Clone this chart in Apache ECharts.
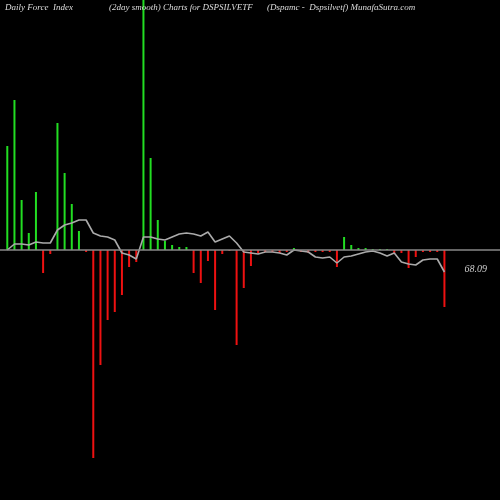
<!DOCTYPE html>
<html><head><meta charset="utf-8">
<script src="https://cdn.jsdelivr.net/npm/echarts@6/dist/echarts.min.js"></script>
<style>html,body{margin:0;padding:0;background:#000}#c{width:500px;height:500px}</style>
</head><body><div id="c"></div>
<script>
const forceValues = [104,150,50,17,58,-23,-4,127,77,46,19,-2,-208,-115,-70,-62,-45,-17,-12,250,92,30,9,5,3,3,-23,-33,-11,-60,-4,-1,-95,-38,
 -16,-3,-2,-2,-3,-2,2,-2,-3,-2,-2,-2,-17,13,5,2,2,1,1,1,-3,-3,-18,-7,-2,-2,-2,-57];
const smoothValues = [0,6,6,5,8,7,7,20,25,27,30,30,17,14,13,10,-3,-5,-9,13,13,11,10,13,16,17,16,14,18,8,11,14,7,-2,
 -3,-4,-2,-2,-3,-5,0,-1,-2,-7,-8,-7,-13,-7,-6,-4,-2,-1,-3,-6,-3,-12,-14,-15,-10,-9,-9,-22];
const categories = forceValues.map((_, i) => String(i + 1));
const lastLabel = '68.09';
const titles = ['Daily Force  Index', '(2day smooth) Charts for DSPSILVETF', '(Dspamc -  Dspsilvetf) MunafaSutra.com'];

const chart = echarts.init(document.getElementById('c'));
const tStyle = {fontFamily:'Liberation Serif', fontStyle:'italic', fontWeight:'normal', fontSize:9, color:'#ddd'};
chart.setOption({
  backgroundColor:'#000',
  animation:false,
  title:[
    {text:titles[0], left:0, top:-2, textStyle:tStyle},
    {text:titles[1], left:104, top:-2, textStyle:tStyle},
    {text:titles[2], left:262, top:-2, textStyle:tStyle}
  ],
  grid:{left:3.7, right:52, top:0, bottom:0},
  xAxis:{type:'category', data:categories, show:false},
  yAxis:{type:'value', min:-250, max:250, show:false},
  series:[
    {type:'bar', data:forceValues.map(v=>({value:v, itemStyle:{color:v>=0?'#22dd22':'#ee1111'}})), barWidth:2,
     markLine:{silent:true, symbol:'none', label:{show:false}, lineStyle:{color:'#888', width:1.5, type:'solid'},
       data:[[{x:0,yAxis:0},{x:500,yAxis:0}]]}},
    {type:'line', data:smoothValues, symbol:'none', lineStyle:{color:'#aaa', width:1.6},
     endLabel:{show:true, formatter:lastLabel, color:'#ccc', fontFamily:'Liberation Serif', fontStyle:'italic', fontSize:10, offset:[12,-3]}}
  ]
});
</script></body></html>
